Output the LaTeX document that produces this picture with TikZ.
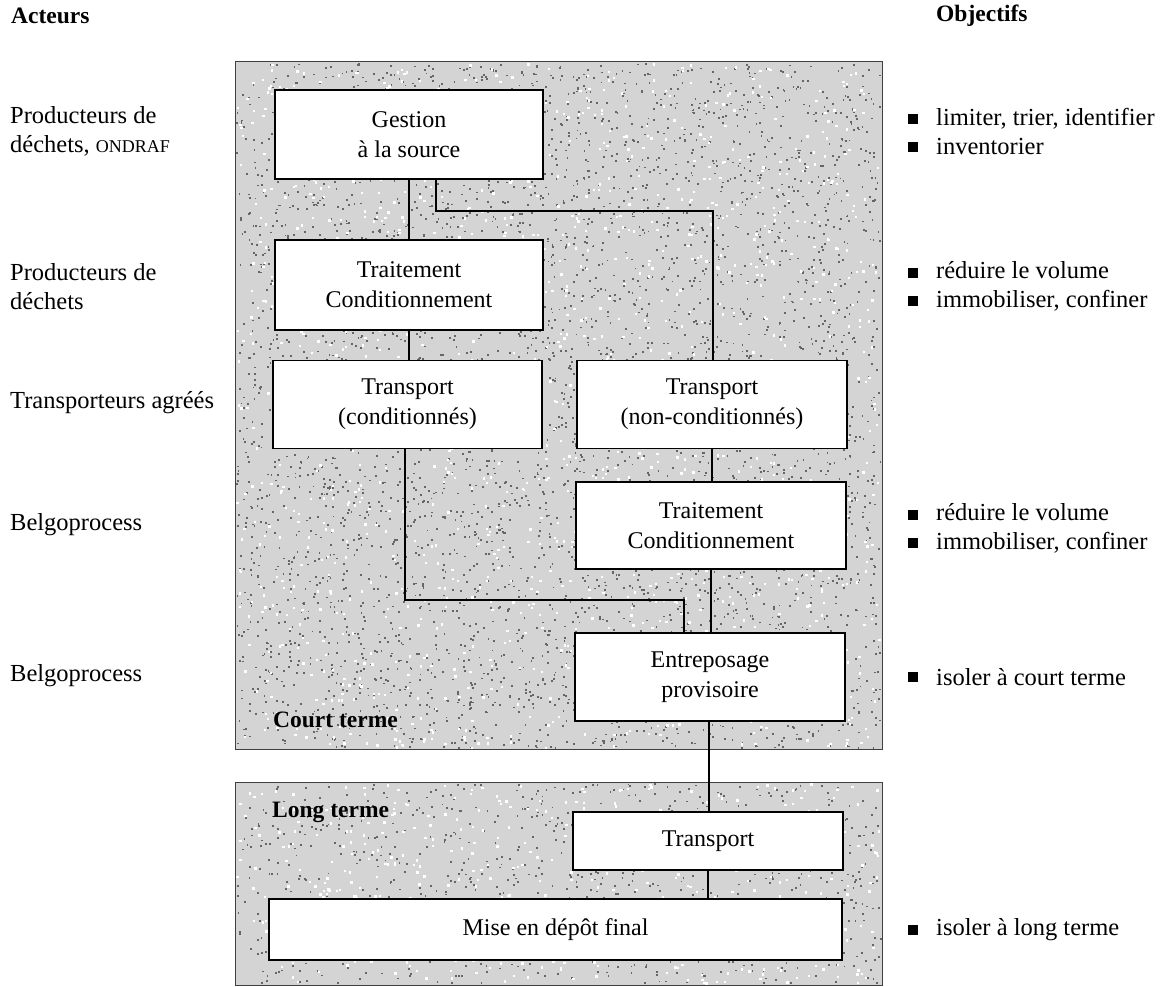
\documentclass[tikz,border=0pt]{standalone}
\usepackage{fontspec}
\setmainfont{Liberation Serif}
\begin{document}
\begin{tikzpicture}[x=1pt,y=-1pt,
  box/.style={draw=black,line width=1.4pt,fill=white,rectangle,inner sep=0pt,align=center,font=\fontsize{24}{30}\selectfont},
  side/.style={anchor=west,align=left,inner sep=0pt,font=\fontsize{24.5}{29}\selectfont},
  head/.style={anchor=west,inner sep=0pt,font=\fontsize{23.5}{28}\selectfont\bfseries},
  panel/.style={draw=black!75,line width=1pt,fill=black!17},
  conn/.style={line width=1.2pt},
  bullet/.style={fill=black,minimum size=9.5pt,inner sep=0pt,rectangle}]
\useasboundingbox (0,0) rectangle (1162,987);
% panels
\path[panel] (235,62) rectangle (882,749);
\path[panel] (235,782) rectangle (882,985);
% stipple texture
\pgfmathsetseed{7}
\foreach \i in {1,...,4500}{
  \pgfmathsetmacro\rx{236+rnd*644}
  \pgfmathsetmacro\ry{63+rnd*684}
  \fill[black!60] (\rx,\ry) rectangle ++(1.8,1.8);
}
\foreach \i in {1,...,900}{
  \pgfmathsetmacro\rx{236+rnd*644}
  \pgfmathsetmacro\ry{783+rnd*200}
  \fill[black!60] (\rx,\ry) rectangle ++(1.8,1.8);
}
\foreach \i in {1,...,1500}{
  \pgfmathsetmacro\rx{236+rnd*644}
  \pgfmathsetmacro\ry{63+rnd*684}
  \fill[white] (\rx,\ry) rectangle ++(2.4,2.4);
}
\foreach \i in {1,...,500}{
  \pgfmathsetmacro\rx{236+rnd*644}
  \pgfmathsetmacro\ry{783+rnd*200}
  \fill[white] (\rx,\ry) rectangle ++(2.4,2.4);
}
% boxes
\node[box,minimum width=268pt,minimum height=89pt] (g) at (409,134.5) {Gestion\\à la source};
\node[box,minimum width=268pt,minimum height=90pt] (t1) at (409,285) {Traitement\\Conditionnement};
\node[box,minimum width=269pt,minimum height=88pt] (tc) at (407.5,404.5) {Transport\\(conditionnés)};
\node[box,minimum width=270pt,minimum height=88pt] (tnc) at (712,404.5) {Transport\\(non-conditionnés)};
\node[box,minimum width=270pt,minimum height=87pt] (t2) at (711,525.5) {Traitement\\Conditionnement};
\node[box,minimum width=270pt,minimum height=88pt] (ent) at (710,677) {Entreposage\\provisoire};
\node[box,minimum width=270pt,minimum height=58pt] (tr) at (708,841) {Transport};
\node[box,minimum width=573pt,minimum height=61pt] (mise) at (555.5,929.5) {Mise en dépôt final};
% panel labels
\node[head] (ct) at (273,720) {Court terme};
\node[head] (lt) at (272,812) {Long terme};
% connectors
\coordinate (j1) at (713,211);
\coordinate (j2) at (684,600);
\draw[conn] (g.south) -- (t1.north);
\draw[conn] ([xshift=27pt]g.south) |- (j1) -- (j1 |- tnc.north);
\draw[conn] (t1.south) -- (t1.south |- tc.north);
\draw[conn] ([xshift=-2.5pt]tc.south) |- (j2) -- (j2 |- ent.north);
\draw[conn] (tnc.south) -- (tnc.south |- t2.north);
\draw[conn] (t2.south) -- (t2.south |- ent.north);
\draw[conn] ([xshift=-1pt]ent.south) -- ([xshift=-1pt]ent.south |- tr.north);
\draw[conn] (tr.south) -- (tr.south |- mise.north);
% headers
\node[head] (act) at (11,16) {Acteurs};
\node[head] (obj) at (936,16) {Objectifs};
% actors
\node[side] (a1) at (10,131) {Producteurs de\\déchets, {\fontsize{18}{29}\selectfont ONDRAF}};
\node[side] (a2) at (10,287) {Producteurs de\\déchets};
\node[side] (a3) at (10,403) {Transporteurs agréés};
\node[side] (a4) at (10,525) {Belgoprocess};
\node[side] (a5) at (10,676) {Belgoprocess};
% objectives
\node[side] (o1) at (936,131) {limiter, trier, identifier\\inventorier};
\node[bullet] (b1a) at (913,119) {};
\node[bullet] (b1b) at (913,147) {};
\node[side] (o2) at (936,286) {réduire le volume\\immobiliser, confiner};
\node[bullet] (b2a) at (913,273) {};
\node[bullet] (b2b) at (913,301) {};
\node[side] (o3) at (936,528) {réduire le volume\\immobiliser, confiner};
\node[bullet] (b3a) at (913,515) {};
\node[bullet] (b3b) at (913,543) {};
\node[side] (o4) at (936,677) {isoler à court terme};
\node[bullet] (b4) at (913,677) {};
\node[side] (o5) at (936,930) {isoler à long terme};
\node[bullet] (b5) at (913,930) {};
\end{tikzpicture}
\end{document}
